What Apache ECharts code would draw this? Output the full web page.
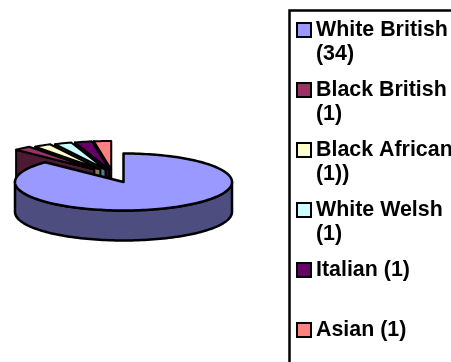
<!DOCTYPE html>
<html><head><meta charset="utf-8">
<style>html,body{margin:0;padding:0;background:#fff}#c{width:451px;height:362px}</style>
<script src="https://cdn.jsdelivr.net/npm/echarts@6/dist/echarts.min.js"></script>
</head><body><div id="c"></div>
<script>
const categories = ['White British','Black British','Black African','White Welsh','Italian','Asian'];
const legendLabels = ['\nWhite British\n(34)','\nBlack British\n(1)','\nBlack African\n(1))','\nWhite Welsh\n(1)','\nItalian (1)\n ','\nAsian (1)\n '];
const values = [34,1,1,1,1,1];
const topColors = ['#9999FF','#993366','#FFFFCC','#CCFFFF','#660066','#FF8080'];
const sideColors = ['#4D4D80','#4D1A33','#80804D','#4D8080','#330033','#804040'];

const CX=123.5, CY=182, RX=108.5, RY=28.5, DEPTH=30;
const total = values.reduce((a,b)=>a+b,0);
const starts=[]; let acc=0;
values.forEach(v=>{starts.push(acc/total*Math.PI*2); acc+=v;});
function pt(a,ox,oy,dz){return [CX+ox+RX*Math.sin(a),CY+oy-RY*Math.cos(a)+(dz||0)];}
function arc(a0,a1,ox,oy,dz){const n=Math.max(2,Math.ceil(Math.abs(a1-a0)/0.03));const r=[];for(let k=0;k<=n;k++){r.push(pt(a0+(a1-a0)*k/n,ox,oy,dz));}return r;}
function poly(points,fill,lw){return {type:'polygon',shape:{points},style:{fill,stroke:'#000',lineWidth:lw,lineJoin:'round'}};}

function renderSlice(i){
  return function(params,api){
    const v=api.value(0);
    const a0=starts[i], a1=a0+v/total*Math.PI*2, mid=(a0+a1)/2;
    const children=[];
    if(i===0){
      const lo=Math.PI/2, hi=Math.PI*1.5;
      children.push(poly(arc(lo,hi,0,0,0).concat(arc(hi,lo,0,0,DEPTH)),sideColors[i],2.5));
      children.push(poly([[CX,CY]].concat(arc(a0,a1,0,0,0)),topColors[i],2.5));
    }else{
      const sn=Math.sin(mid);
      const ox=-12-39*sn*sn, oy=-12.5;
      const ax=CX+ox, ay=CY+oy, s=pt(a0,ox,oy,0);
      children.push(poly([[ax,ay],s,[s[0],s[1]+DEPTH],[ax,ay+DEPTH]],sideColors[i],2));
      children.push(poly([[ax,ay]].concat(arc(a0,a1,ox,oy,0)),topColors[i],2));
    }
    return {type:'group',children};
  };
}
const series=categories.map((name,i)=>({
  name,type:'custom',coordinateSystem:'none',silent:true,animation:false,
  z:i===0?20:10+(categories.length-i),
  itemStyle:{color:topColors[i]},
  data:[[values[i]]],
  renderItem:renderSlice(i)
}));
const chart=echarts.init(document.getElementById('c'),null,{renderer:'canvas'});
chart.setOption({
  animation:false,
  backgroundColor:'#fff',
  graphic:[{type:'rect',z:0,shape:{x:289.5,y:10.5,width:200,height:400},style:{fill:'#fff',stroke:'#000',lineWidth:2.5}}],
  legend:{
    orient:'vertical',left:291,top:-11,height:700,width:400,selectedMode:false,
    itemWidth:14,itemHeight:14,itemGap:-12,
    icon:'rect',
    data:categories.map((name,i)=>({name,itemStyle:{color:topColors[i],borderColor:'#000',borderWidth:2}})),
    formatter:name=>legendLabels[categories.indexOf(name)],
    textStyle:{fontFamily:'Liberation Sans',fontWeight:'bold',fontSize:21.4,lineHeight:24,color:'#000'}
  },
  series
});
</script></body></html>
